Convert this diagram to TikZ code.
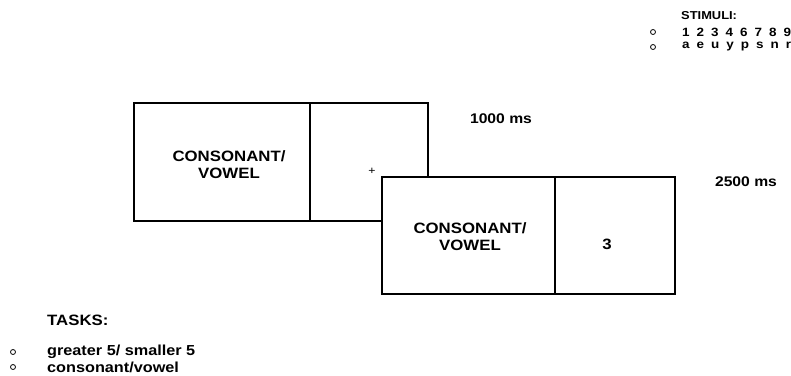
\documentclass[tikz,border=0pt]{standalone}
\usepackage{fontspec}
\setmainfont{Liberation Sans}[FakeStretch=1.12]
\newfontfamily\spacedfont{Liberation Sans}[FakeStretch=1.12,WordSpace=1.88]
\usepackage{tikz}
\usetikzlibrary{positioning}

\begin{document}
\begin{tikzpicture}[x=1pt, y=-1pt,
  screen/.style={draw=black, line width=1.2pt, fill=white, minimum height=118pt, inner sep=0pt},
  boxtext/.style={font=\fontsize{15}{17}\selectfont\bfseries, align=center, inner sep=0pt},
  timetext/.style={font=\fontsize{14}{16}\selectfont\bfseries, inner sep=0pt},
  listhead/.style={font=\fontsize{11.5}{14}\selectfont\bfseries, anchor=west, inner sep=0pt},
  listitem/.style={font=\fontsize{14.5}{16}\selectfont\bfseries, anchor=west, inner sep=0pt},
  bullet/.style={circle, draw=black, line width=0.8pt, minimum size=5pt, inner sep=0pt}
]
  \useasboundingbox (0,0) rectangle (791,375);

  % first display: cue + fixation
  \node[screen, minimum width=176pt] (cueA) at (222,162) {};
  \node[screen, minimum width=118pt] (fixA) at (369,162) {};
  \node[boxtext] (cueAtext) at (229,165) {CONSONANT/\\VOWEL};
  \node[inner sep=0pt, font=\fontsize{11}{11}\selectfont] (cross) at (372,171) {+};

  % second display: cue + target
  \node[screen, minimum width=173pt, minimum height=117pt] (cueB) at (468.5,235.5) {};
  \node[screen, minimum width=120pt, minimum height=117pt] (digitB) at (615,235.5) {};
  \node[boxtext] (cueBtext) at (470,237) {CONSONANT/\\VOWEL};
  \node[boxtext] (target) at (607,244) {3};

  % durations
  \node[timetext] (timeA) at (501,119) {1000 ms};
  \node[timetext] (timeB) at (746,182) {2500 ms};

  % stimuli list
  \node[listhead] (stimhead) at (681,16) {STIMULI:};
  \node[bullet] (stimbulA) at (653,32) {};
  \node[bullet] (stimbulB) at (653,47) {};
  \node[listitem, font=\fontsize{12}{14}\spacedfont\bfseries] (digits) at (682,32) {1 2 3 4 6 7 8 9};
  \node[listitem, font=\fontsize{12}{14}\spacedfont\bfseries] (letters) at (682,47) {a e u y p s n r};

  % task list
  \node[listhead, font=\fontsize{15}{17}\selectfont\bfseries] (taskhead) at (47,320) {TASKS:};
  \node[bullet] (taskbulA) at (13,352) {};
  \node[bullet] (taskbulB) at (13,367) {};
  \node[listitem] (taskA) at (47,352) {greater 5/ smaller 5};
  \node[listitem] (taskB) at (47,367) {consonant/vowel};
\end{tikzpicture}
\end{document}
